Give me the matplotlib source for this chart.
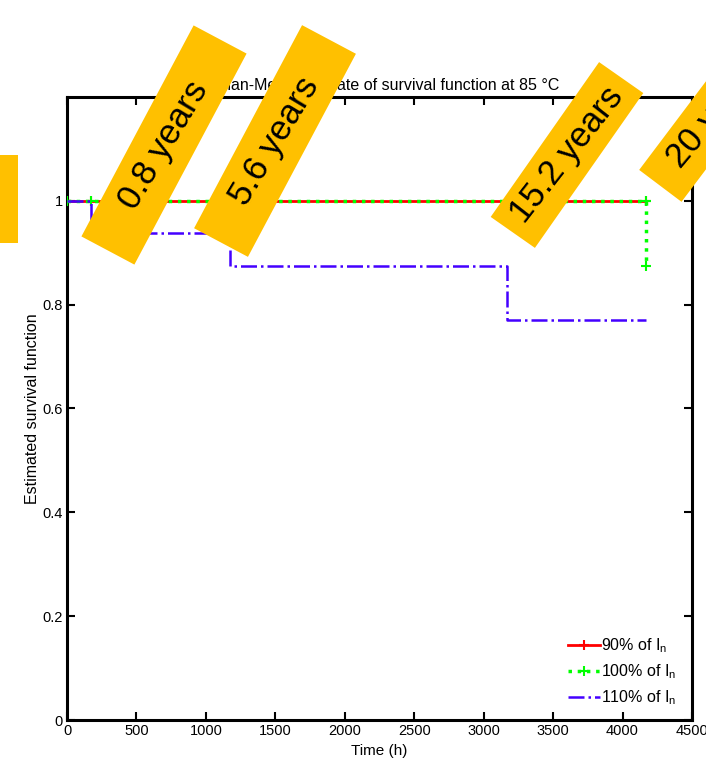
"""
Kaplan-Meier survival curves at 85 °C with rotated call-out labels.
"""
import matplotlib
matplotlib.use("Agg")
import matplotlib.pyplot as plt
from matplotlib.patches import Rectangle
from matplotlib.transforms import Affine2D

plt.rcParams["font.family"] = ["Liberation Sans", "DejaVu Sans"]

# ---- data ------------------------------------------------------------------
t_90 = [0, 170, 4170]
s_90 = [1.0, 1.0, 1.0]

t_100 = [0, 170, 4170, 4170]
s_100 = [1.0, 1.0, 1.0, 0.875]

t_110 = [0, 170, 1170, 3170, 4170]
s_110 = [1.0, 0.9375, 0.875, 0.77, 0.77]

series_labels = ["90% of I$_{\\mathregular{n}}$",
                 "100% of I$_{\\mathregular{n}}$",
                 "110% of I$_{\\mathregular{n}}$"]

x_ticks = [0, 500, 1000, 1500, 2000, 2500, 3000, 3500, 4000, 4500]
y_ticks = [0, 0.2, 0.4, 0.6, 0.8, 1.0]
y_tick_labels = ["0", "0.2", "0.4", "0.6", "0.8", "1"]

# call-out boxes: text, centre (px from top-left), size (px), angle (deg)
callout_text = ["0.8 years", "5.6 years", "15.2 years", "20 years"]
callout_xy = [(164, 145), (275, 141), (567, 155), (716, 112)]
callout_size = [(239, 60), (230, 61), (189, 54), (185, 53)]
callout_angle = [62, 62, 55, 53]

W, H = 706, 765
BOX = "#FFC000"

fig = plt.figure(figsize=(W / 100, H / 100), dpi=100)
ax = fig.add_axes([67 / W, 45 / H, 625 / W, 623 / H])

ax.plot(t_90, s_90, "-", color="#ff0000", lw=2.0, marker="+", ms=7, mew=1.5,
        drawstyle="steps-post", label=series_labels[0], zorder=3)
ax.plot(t_100, s_100, ":", color="#00ff00", lw=2.5, marker="+", ms=7, mew=1.5,
        label=series_labels[1], zorder=4)
ax.plot(t_110, s_110, "-.", color="#4400ff", lw=1.8,
        drawstyle="steps-post", label=series_labels[2], zorder=5)

ax.set_xlim(0, 4500)
ax.set_ylim(0, 1.2)
ax.set_xticks(x_ticks)
ax.set_yticks(y_ticks)
ax.set_yticklabels(y_tick_labels)
ax.tick_params(direction="in", length=6, width=1.5, top=True, right=True,
               labelsize=10.5, pad=3)
for sp in ax.spines.values():
    sp.set_linewidth(2.2)

ax.set_xlabel("Time (h)", fontsize=11, labelpad=4)
ax.set_ylabel("Estimated survival function", fontsize=11.5, labelpad=2)
ax.set_title("Kaplan-Meier estimate of survival function at 85 °C",
             fontsize=11.5, pad=5)

leg = ax.legend(loc="lower right", bbox_to_anchor=(0.995, 0.0), frameon=False,
                fontsize=11.5, handlelength=2.0, handletextpad=0.05,
                labelspacing=0.45, borderaxespad=0.4)

# ---- call-out boxes on top of everything -----------------------------------
def px_transform(cx, cy, ang):
    return (Affine2D().rotate_deg(ang).translate(cx, H - cy)
            .scale(1 / W, 1 / H) + fig.transFigure)

for txt, (cx, cy), (bw, bh), ang in zip(callout_text, callout_xy,
                                        callout_size, callout_angle):
    rect = Rectangle((-bw / 2, -bh / 2), bw, bh, facecolor=BOX,
                     edgecolor="none", transform=px_transform(cx, cy, ang),
                     zorder=10)
    fig.add_artist(rect)
    fig.text(cx / W, 1 - cy / H, txt, rotation=ang - 3, fontsize=25,
             ha="center", va="center", rotation_mode="anchor", zorder=11)

# partially visible box at the left edge
fig.add_artist(Rectangle((-30 / W, 1 - 243 / H), 48 / W, 88 / H,
                         facecolor=BOX, edgecolor="none",
                         transform=fig.transFigure, zorder=10))

fig.savefig("out.png", dpi=100)
